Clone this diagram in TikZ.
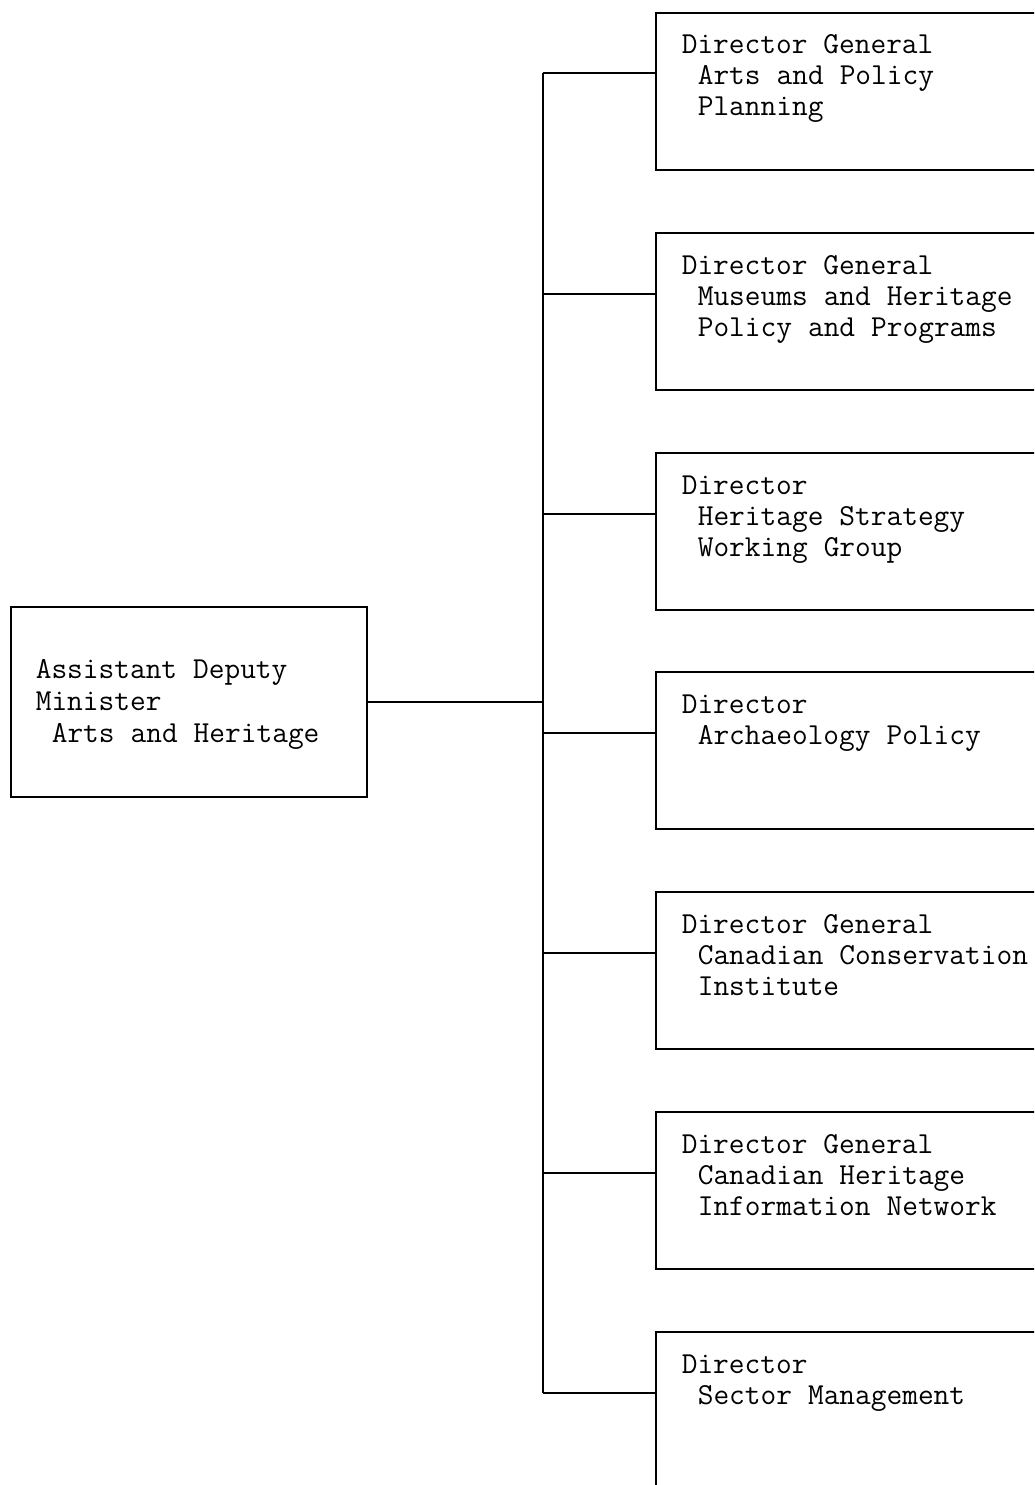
\documentclass[tikz,border=0pt]{standalone}
\usepackage{fontspec}
% typewriter face used for every unit title, with a fixed word space
\newcommand\orgfont{\ttfamily\fontsize{30.5}{31}\selectfont\spaceskip=0.525em\relax}
% one-character indent at the start of a continuation line
\newcommand\indentone{\hspace*{16pt}}
% text block of a subordinate unit: set from the top of its frame
\newcommand\unitbody[1]{\parbox[c][157pt][t]{393pt}{\vspace*{19.5pt}\strut#1}}
% text block of the head unit
\newcommand\headbody[1]{\parbox[c][190pt][t]{306pt}{\baselineskip=32pt\vspace*{50pt}\strut#1}}
\begin{document}
\begin{tikzpicture}[x=1pt,y=-1pt,
  wire/.style={line width=1.6pt},
  headbox/.style={draw, line width=1.6pt, anchor=north west, font=\orgfont,
    inner xsep=25pt, inner ysep=0pt},
  unitbox/.style={draw, line width=1.6pt, anchor=north west, font=\orgfont,
    inner xsep=26pt, inner ysep=0pt}]
\useasboundingbox (0,0) rectangle (1034,1485);
\fill[white] (0,0) rectangle (1034,1485);
\clip (0,0) rectangle (1034,1485);

% head of the sector
\node[headbox] (adm) at (10,606)
  {\headbody{Assistant Deputy\\Minister\\\indentone Arts and Heritage}};

% reporting units
\node[unitbox] (u1) at (655,12)
  {\unitbody{Director General\\\indentone Arts and Policy\\\indentone Planning}};
\node[unitbox] (u2) at (655,232)
  {\unitbody{Director General\\\indentone Museums and Heritage\\\indentone Policy and Programs}};
\node[unitbox] (u3) at (655,452)
  {\unitbody{Director\\\indentone Heritage Strategy\\\indentone Working Group}};
\node[unitbox] (u4) at (655,671)
  {\unitbody{Director\\\indentone Archaeology Policy}};
\node[unitbox] (u5) at (655,891)
  {\unitbody{Director General\\\indentone Canadian Conservation\\\indentone Institute}};
\node[unitbox] (u6) at (655,1111)
  {\unitbody{Director General\\\indentone Canadian Heritage\\\indentone Information Network}};
\node[unitbox] (u7) at (655,1331)
  {\unitbody{Director\\\indentone Sector Management}};

% vertical trunk and its junctions
\coordinate (j1) at (543,73);
\coordinate (j2) at (543,294);
\coordinate (j3) at (543,514);
\coordinate (j4) at (543,733);
\coordinate (j5) at (543,953);
\coordinate (j6) at (543,1173);
\coordinate (j7) at (543,1393);
\draw[wire] (j1) -- (j7);

% branches
\draw[wire] (adm.east) -- (adm.east -| j1);
\foreach \k in {1,...,7}
  \draw[wire] (j\k) -- (j\k -| u\k.west);
\end{tikzpicture}
\end{document}
